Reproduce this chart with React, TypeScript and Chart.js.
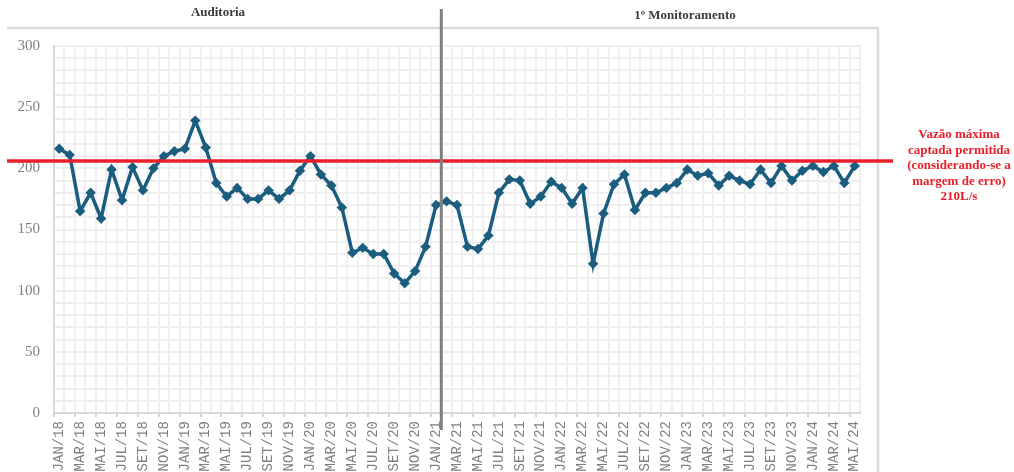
import React, { useEffect, useRef } from 'react';
import { Chart, registerables } from 'chart.js';

Chart.register(...registerables);

const categories = [
  'JAN/18','FEV/18','MAR/18','ABR/18','MAI/18','JUN/18','JUL/18','AGO/18','SET/18','OUT/18','NOV/18','DEZ/18',
  'JAN/19','FEV/19','MAR/19','ABR/19','MAI/19','JUN/19','JUL/19','AGO/19','SET/19','OUT/19','NOV/19','DEZ/19',
  'JAN/20','FEV/20','MAR/20','ABR/20','MAI/20','JUN/20','JUL/20','AGO/20','SET/20','OUT/20','NOV/20','DEZ/20',
  'JAN/21','FEV/21','MAR/21','ABR/21','MAI/21','JUN/21','JUL/21','AGO/21','SET/21','OUT/21','NOV/21','DEZ/21',
  'JAN/22','FEV/22','MAR/22','ABR/22','MAI/22','JUN/22','JUL/22','AGO/22','SET/22','OUT/22','NOV/22','DEZ/22',
  'JAN/23','FEV/23','MAR/23','ABR/23','MAI/23','JUN/23','JUL/23','AGO/23','SET/23','OUT/23','NOV/23','DEZ/23',
  'JAN/24','FEV/24','MAR/24','ABR/24','MAI/24',
];

const flowValues = [
  216, 211, 165, 180, 159, 199, 174, 201, 182, 200, 210, 214,
  216, 239, 217, 188, 177, 184, 175, 175, 182, 175, 182, 198,
  210, 195, 186, 168, 131, 135, 130, 130, 114, 106, 116, 136,
  170, 173, 170, 136, 134, 145, 180, 191, 190, 171, 177, 189,
  184, 171, 184, 122, 163, 187, 195, 166, 180, 180, 184, 188,
  199, 194, 196, 186, 194, 190, 187, 199, 188, 202, 190, 198,
  202, 197, 202, 188, 202,
];

const limitLine = [206];
const yRange = [0, 300];
const yGridStep = [10];
const yLabelStep = [50];
const phaseTitles = ['Auditoria', '1º Monitoramento'];
const phaseSplitAfter = ['JAN/21'];
const limitNote = ['Vazão máxima', 'captada permitida', '(considerando-se a', 'margem de erro)', '210L/s'];

const SERIES_COLOR = '#1a5d7e';
const RED = '#e8202a';

const overlayPlugin = {
  id: 'overlay',
  beforeDraw(chart: any) {
    const { ctx } = chart;
    ctx.save();
    ctx.strokeStyle = '#dadada';
    ctx.lineWidth = 2.5;
    ctx.beginPath();
    ctx.moveTo(7, 28);
    ctx.lineTo(878, 28);
    ctx.lineTo(878, 480);
    ctx.stroke();
    ctx.restore();
  },
  afterDatasetsDraw(chart: any) {
    const { ctx } = chart;
    const x = chart.scales.x;
    const y = chart.scales.y;
    ctx.save();
    const ly = y.getPixelForValue(limitLine[0]);
    ctx.strokeStyle = RED;
    ctx.lineWidth = 3.5;
    ctx.beginPath();
    ctx.moveTo(7, ly);
    ctx.lineTo(893, ly);
    ctx.stroke();

    const i = categories.indexOf(phaseSplitAfter[0]);
    const vx = (x.getPixelForValue(i) + x.getPixelForValue(i + 1)) / 2;
    ctx.strokeStyle = '#7f7f7f';
    ctx.lineWidth = 3;
    ctx.beginPath();
    ctx.moveTo(vx, 9);
    ctx.lineTo(vx, 430);
    ctx.stroke();
    ctx.restore();
  },
  afterDraw(chart: any) {
    const { ctx } = chart;
    ctx.save();
    ctx.textAlign = 'center';
    ctx.textBaseline = 'middle';
    ctx.fillStyle = '#3a3a3a';
    ctx.font = 'bold 13px "Liberation Serif"';
    ctx.fillText(phaseTitles[0], 218, 13);
    ctx.fillText(phaseTitles[1], 685, 16);

    ctx.fillStyle = RED;
    ctx.font = 'bold 13px "Liberation Serif"';
    limitNote.forEach((line, k) => {
      ctx.fillText(line, 959, 135 + k * 15.5);
    });
    ctx.restore();
  },
};

export default function App() {
  const canvasRef = useRef<HTMLCanvasElement | null>(null);

  useEffect(() => {
    if (!canvasRef.current) return;
    const chart = new Chart(canvasRef.current, {
      type: 'line',
      data: {
        labels: categories,
        datasets: [
          {
            data: flowValues,
            borderColor: SERIES_COLOR,
            backgroundColor: SERIES_COLOR,
            borderWidth: 3.5,
            tension: 0,
            pointStyle: 'rectRot',
            pointRadius: 5.2,
            pointBackgroundColor: SERIES_COLOR,
            pointBorderColor: SERIES_COLOR,
            pointBorderWidth: 0,
          },
        ],
      },
      options: {
        animation: false,
        responsive: true,
        maintainAspectRatio: false,
        events: [],
        layout: { padding: { left: 0, right: 154, top: 46, bottom: 0 } },
        plugins: {
          legend: { display: false },
          tooltip: { enabled: false },
          title: { display: false },
        },
        scales: {
          x: {
            type: 'category',
            offset: true,
            grid: {
              offset: true,
              color: '#efefef',
              lineWidth: 2,
              drawTicks: true,
              tickLength: 4,
              tickColor: (c: any) => (c.index % 2 === 0 ? '#c8c8c8' : 'rgba(0,0,0,0)'),
              tickWidth: 1.5,
            },
            border: { color: '#d9d9d9', width: 2 },
            ticks: {
              autoSkip: false,
              minRotation: 90,
              maxRotation: 90,
              padding: 4,
              color: '#808080',
              font: { family: '"Liberation Mono"', size: 14 },
              callback: (_v: any, idx: number) => (idx % 2 === 0 ? categories[idx] : ''),
            },
            afterFit: (scale: any) => {
              scale.height = 59;
            },
          },
          y: {
            min: yRange[0],
            max: yRange[1],
            grid: { color: '#efefef', lineWidth: 2, drawTicks: false },
            border: { color: '#d9d9d9', width: 2 },
            ticks: {
              stepSize: yGridStep[0],
              autoSkip: false,
              padding: 14,
              color: '#808080',
              font: { family: '"Liberation Serif"', size: 15 },
              callback: (v: any) => (Number(v) % yLabelStep[0] === 0 ? String(v) : ''),
            },
            afterFit: (scale: any) => {
              scale.width = 54;
            },
          },
        },
      },
      plugins: [overlayPlugin],
    });
    return () => chart.destroy();
  }, []);

  return (
    <div style={{ position: 'absolute', left: 0, top: 0, width: 1014, height: 472, overflow: 'hidden', background: '#fff' }}>
      <canvas ref={canvasRef} />
    </div>
  );
}
